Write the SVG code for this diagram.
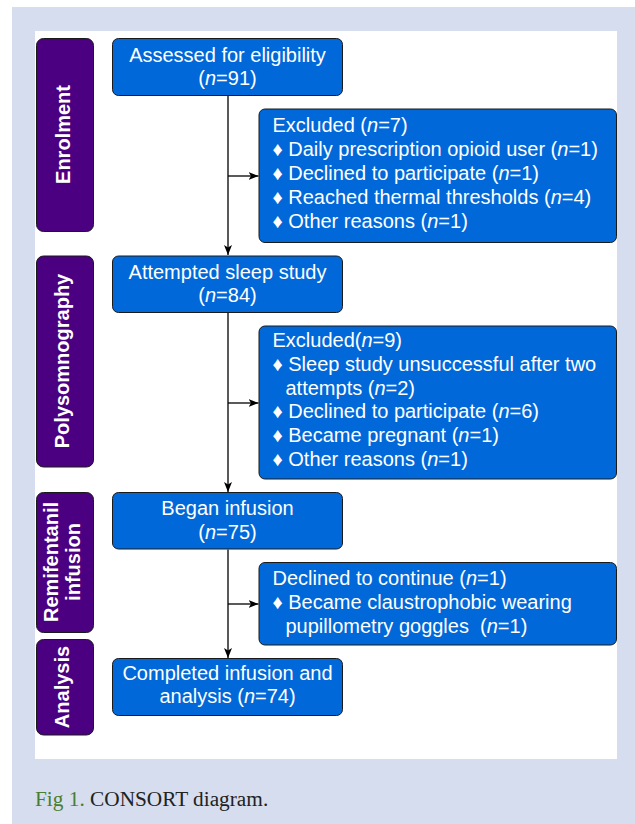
<svg xmlns="http://www.w3.org/2000/svg" width="635" height="824" viewBox="0 0 635 824">
<style>
.bg{fill:#d5ddee}
.phase{fill:#4b0082;stroke:#1a1a1a;stroke-width:1}
.box{fill:#0068d9;stroke:#1a1a1a;stroke-width:1}
.pt{font-family:"Liberation Sans",Arial,sans-serif;font-size:20px;font-weight:bold;fill:#fff;text-anchor:middle}
.t{font-family:"Liberation Sans",Arial,sans-serif;font-size:20px;fill:#fff}
.c{text-anchor:middle}
.i{font-style:italic}
.ln{stroke:#000;stroke-width:1.3;fill:none}
.cap{font-family:"Liberation Serif","Times New Roman",serif;font-size:21.3px;fill:#222}
</style>
<defs>
<marker id="ah" viewBox="0 0 10 10" refX="10" refY="5" markerWidth="10" markerHeight="10" markerUnits="userSpaceOnUse" orient="auto">
<path d="M0,1 L10,5 L0,9 L2.5,5 z" fill="#000"/>
</marker>
</defs>
<rect class="bg" x="12" y="7" width="623" height="817"/>
<rect x="35" y="31" width="582" height="728" fill="#fff"/>

<g id="phase-enrolment">
<rect class="phase" x="36.5" y="38.5" width="57" height="193" rx="7"/>
<text class="pt" transform="translate(69.5,134.5) rotate(-90)">Enrolment</text>
</g>
<g id="phase-polysomnography">
<rect class="phase" x="36.5" y="256" width="57" height="211" rx="7"/>
<text class="pt" transform="translate(68.5,361) rotate(-90)">Polysomnography</text>
</g>
<g id="phase-remifentanil">
<rect class="phase" x="36.5" y="492.5" width="57" height="140" rx="7"/>
<text class="pt" transform="translate(58,562) rotate(-90)">Remifentanil</text>
<text class="pt" transform="translate(80,562) rotate(-90)">infusion</text>
</g>
<g id="phase-analysis">
<rect class="phase" x="36.5" y="639.5" width="57" height="95.5" rx="7"/>
<text class="pt" transform="translate(69,687) rotate(-90)">Analysis</text>
</g>

<g id="connectors">
<line class="ln" x1="228" y1="96" x2="228" y2="255" marker-end="url(#ah)"/>
<line class="ln" x1="228" y1="176" x2="258.5" y2="176" marker-end="url(#ah)"/>
<line class="ln" x1="228" y1="313" x2="228" y2="492" marker-end="url(#ah)"/>
<line class="ln" x1="228" y1="403" x2="258.5" y2="403" marker-end="url(#ah)"/>
<line class="ln" x1="228" y1="549.5" x2="228" y2="658" marker-end="url(#ah)"/>
<line class="ln" x1="228" y1="604" x2="258.5" y2="604" marker-end="url(#ah)"/>
</g>

<g id="assessed">
<rect class="box" x="112.5" y="38.5" width="230" height="57" rx="6"/>
<text class="t c" x="227.5" y="61.5">Assessed for eligibility</text>
<text class="t c" x="227.5" y="84.5">(<tspan class="i">n</tspan>=91)</text>
</g>
<g id="excluded1">
<rect class="box" x="259" y="109" width="357.5" height="133.5" rx="6"/>
<text class="t" x="272.5" y="132">Excluded (<tspan class="i">n</tspan>=7)</text>
<text class="t" x="272.5" y="156">♦ Daily prescription opioid user (<tspan class="i">n</tspan>=1)</text>
<text class="t" x="272.5" y="180">♦ Declined to participate (<tspan class="i">n</tspan>=1)</text>
<text class="t" x="272.5" y="204">♦ Reached thermal thresholds (<tspan class="i">n</tspan>=4)</text>
<text class="t" x="272.5" y="228">♦ Other reasons (<tspan class="i">n</tspan>=1)</text>
</g>
<g id="attempted">
<rect class="box" x="112.5" y="256" width="230" height="56.5" rx="6"/>
<text class="t c" x="227.5" y="278.5">Attempted sleep study</text>
<text class="t c" x="227.5" y="301.5">(<tspan class="i">n</tspan>=84)</text>
</g>
<g id="excluded2">
<rect class="box" x="259" y="326" width="357.5" height="153" rx="6"/>
<text class="t" x="272.5" y="347">Excluded(<tspan class="i">n</tspan>=9)</text>
<text class="t" x="272.5" y="371">♦ Sleep study unsuccessful after two</text>
<text class="t" x="285.5" y="394.5">attempts (<tspan class="i">n</tspan>=2)</text>
<text class="t" x="272.5" y="418">♦ Declined to participate (<tspan class="i">n</tspan>=6)</text>
<text class="t" x="272.5" y="442">♦ Became pregnant (<tspan class="i">n</tspan>=1)</text>
<text class="t" x="272.5" y="466">♦ Other reasons (<tspan class="i">n</tspan>=1)</text>
</g>
<g id="began">
<rect class="box" x="112.5" y="492.5" width="230" height="56.5" rx="6"/>
<text class="t c" x="227.5" y="515">Began infusion</text>
<text class="t c" x="227.5" y="538.5">(<tspan class="i">n</tspan>=75)</text>
</g>
<g id="declined">
<rect class="box" x="259" y="562.5" width="357.5" height="82.5" rx="6"/>
<text class="t" x="272.5" y="585">Declined to continue (<tspan class="i">n</tspan>=1)</text>
<text class="t" x="272.5" y="609">♦ Became claustrophobic wearing</text>
<text class="t" x="285.5" y="633">pupillometry goggles &#160;(<tspan class="i">n</tspan>=1)</text>
</g>
<g id="completed">
<rect class="box" x="112.5" y="658.5" width="230" height="57" rx="6"/>
<text class="t c" x="227.5" y="680">Completed infusion and</text>
<text class="t c" x="227.5" y="703">analysis (<tspan class="i">n</tspan>=74)</text>
</g>

<text class="cap" x="35" y="806"><tspan fill="#4a7d2e">Fig 1.</tspan> CONSORT diagram.</text>
</svg>
